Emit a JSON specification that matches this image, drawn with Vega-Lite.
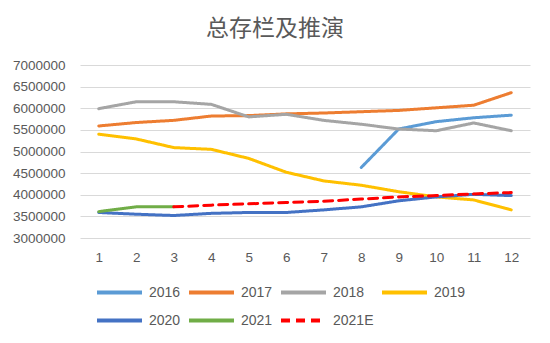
{
  "$schema": "https://vega.github.io/schema/vega-lite/v6.json",
  "width": 450,
  "height": 173,
  "autosize": "none",
  "padding": {"left": 80, "top": 65, "right": 20, "bottom": 105},
  "background": "white",
  "title": {"text": "总存栏及推演", "font": "Noto Sans CJK SC", "fontSize": 23, "fontWeight": "normal", "color": "#595959", "anchor": "middle", "offset": 17, "dx": -30},
  "data": {"values": [
    {"m": 8, "s": "2016", "v": 4630000}, {"m": 9, "s": "2016", "v": 5520000}, {"m": 10, "s": "2016", "v": 5690000}, {"m": 11, "s": "2016", "v": 5780000}, {"m": 12, "s": "2016", "v": 5840000},
    {"m": 1, "s": "2017", "v": 5590000}, {"m": 2, "s": "2017", "v": 5670000}, {"m": 3, "s": "2017", "v": 5720000}, {"m": 4, "s": "2017", "v": 5820000}, {"m": 5, "s": "2017", "v": 5830000}, {"m": 6, "s": "2017", "v": 5870000}, {"m": 7, "s": "2017", "v": 5890000}, {"m": 8, "s": "2017", "v": 5920000}, {"m": 9, "s": "2017", "v": 5950000}, {"m": 10, "s": "2017", "v": 6010000}, {"m": 11, "s": "2017", "v": 6070000}, {"m": 12, "s": "2017", "v": 6360000},
    {"m": 1, "s": "2018", "v": 5990000}, {"m": 2, "s": "2018", "v": 6150000}, {"m": 3, "s": "2018", "v": 6150000}, {"m": 4, "s": "2018", "v": 6090000}, {"m": 5, "s": "2018", "v": 5800000}, {"m": 6, "s": "2018", "v": 5860000}, {"m": 7, "s": "2018", "v": 5720000}, {"m": 8, "s": "2018", "v": 5630000}, {"m": 9, "s": "2018", "v": 5520000}, {"m": 10, "s": "2018", "v": 5480000}, {"m": 11, "s": "2018", "v": 5660000}, {"m": 12, "s": "2018", "v": 5480000},
    {"m": 1, "s": "2019", "v": 5400000}, {"m": 2, "s": "2019", "v": 5290000}, {"m": 3, "s": "2019", "v": 5090000}, {"m": 4, "s": "2019", "v": 5050000}, {"m": 5, "s": "2019", "v": 4840000}, {"m": 6, "s": "2019", "v": 4520000}, {"m": 7, "s": "2019", "v": 4320000}, {"m": 8, "s": "2019", "v": 4220000}, {"m": 9, "s": "2019", "v": 4070000}, {"m": 10, "s": "2019", "v": 3950000}, {"m": 11, "s": "2019", "v": 3880000}, {"m": 12, "s": "2019", "v": 3650000},
    {"m": 1, "s": "2020", "v": 3590000}, {"m": 2, "s": "2020", "v": 3550000}, {"m": 3, "s": "2020", "v": 3520000}, {"m": 4, "s": "2020", "v": 3570000}, {"m": 5, "s": "2020", "v": 3590000}, {"m": 6, "s": "2020", "v": 3590000}, {"m": 7, "s": "2020", "v": 3650000}, {"m": 8, "s": "2020", "v": 3720000}, {"m": 9, "s": "2020", "v": 3860000}, {"m": 10, "s": "2020", "v": 3950000}, {"m": 11, "s": "2020", "v": 4010000}, {"m": 12, "s": "2020", "v": 3980000},
    {"m": 1, "s": "2021", "v": 3610000}, {"m": 2, "s": "2021", "v": 3720000}, {"m": 3, "s": "2021", "v": 3720000},
    {"m": 3, "s": "2021E", "v": 3720000}, {"m": 4, "s": "2021E", "v": 3760000}, {"m": 5, "s": "2021E", "v": 3790000}, {"m": 6, "s": "2021E", "v": 3820000}, {"m": 7, "s": "2021E", "v": 3850000}, {"m": 8, "s": "2021E", "v": 3900000}, {"m": 9, "s": "2021E", "v": 3950000}, {"m": 10, "s": "2021E", "v": 3980000}, {"m": 11, "s": "2021E", "v": 4020000}, {"m": 12, "s": "2021E", "v": 4050000}
  ]},
  "mark": {"type": "line", "strokeWidth": 3, "strokeCap": "round", "strokeJoin": "round"},
  "encoding": {
    "x": {"field": "m", "type": "ordinal", "sort": "ascending",
      "scale": {"type": "point", "padding": 0.5},
      "axis": {"title": null, "labelAngle": 0, "labelFont": "Liberation Sans", "labelFontSize": 13.5, "labelColor": "#595959", "domain": false, "ticks": false, "grid": false, "labelPadding": 12}},
    "y": {"field": "v", "type": "quantitative",
      "scale": {"domain": [3000000, 7000000], "nice": false, "zero": false},
      "axis": {"title": null, "values": [3000000, 3500000, 4000000, 4500000, 5000000, 5500000, 6000000, 6500000, 7000000], "format": "d", "labelFont": "Liberation Sans", "labelFontSize": 13.5, "labelColor": "#595959", "domain": false, "ticks": false, "grid": true, "gridColor": "#D9D9D9", "gridWidth": 1, "labelPadding": 15}},
    "color": {"field": "s", "type": "nominal",
      "scale": {"domain": ["2016", "2017", "2018", "2019", "2020", "2021", "2021E"], "range": ["#5B9BD5", "#ED7D31", "#A5A5A5", "#FFC000", "#4472C4", "#70AD47", "#FF0000"]},
      "legend": {"title": null, "orient": "none", "legendX": 15, "legendY": 203, "direction": "horizontal", "columns": 4, "gridAlign": "none", "symbolType": "stroke", "symbolSize": 2025, "symbolStrokeWidth": 4, "labelFont": "Liberation Sans", "labelFontSize": 14, "labelColor": "#595959", "columnPadding": 0, "rowPadding": -5, "labelOffset": 5, "symbolLimit": 0}},
    "strokeDash": {"field": "s", "type": "nominal",
      "scale": {"domain": ["2016", "2017", "2018", "2019", "2020", "2021", "2021E"], "range": [[1, 0], [1, 0], [1, 0], [1, 0], [1, 0], [1, 0], [9, 6]]},
      "legend": {"title": null, "orient": "none", "legendX": 15, "legendY": 203, "direction": "horizontal", "columns": 4, "gridAlign": "none", "symbolType": "stroke", "symbolSize": 2025, "symbolStrokeWidth": 4, "labelFont": "Liberation Sans", "labelFontSize": 14, "labelColor": "#595959", "columnPadding": 0, "rowPadding": -5, "labelOffset": 5}}
  },
  "config": {"view": {"stroke": null}}
}
